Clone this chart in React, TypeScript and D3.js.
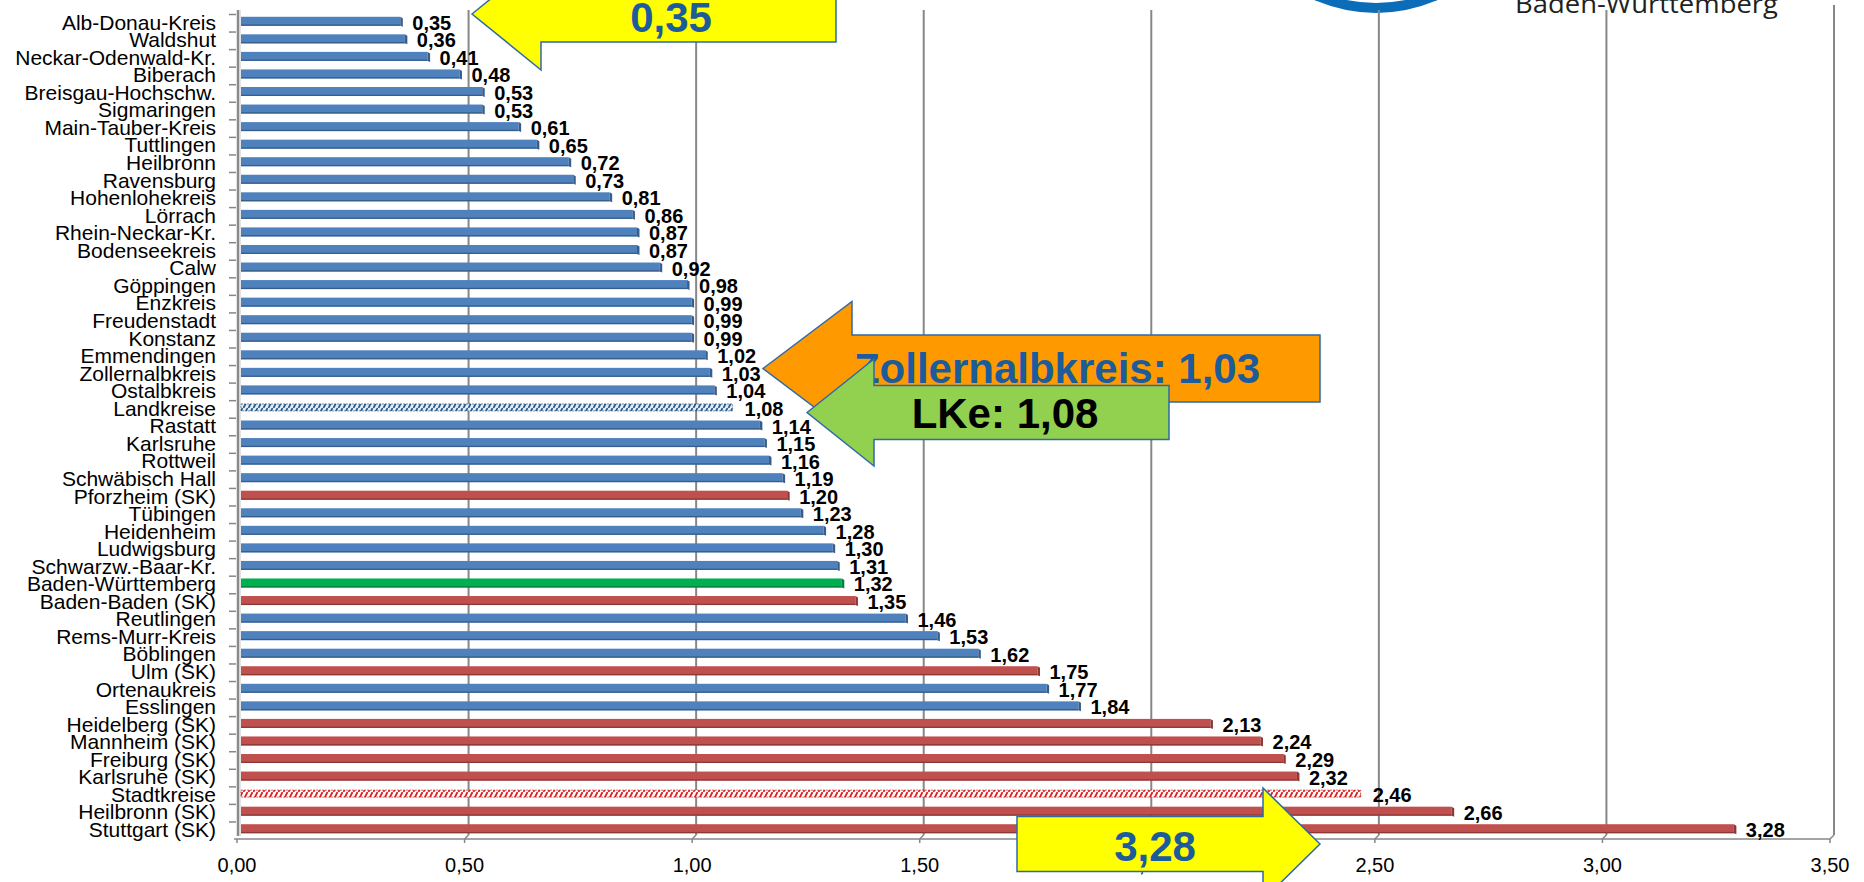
import React, { useEffect } from "react";
import * as d3 from "d3";

const categories = [
  "Alb-Donau-Kreis", "Waldshut", "Neckar-Odenwald-Kr.", "Biberach", "Breisgau-Hochschw.",
  "Sigmaringen", "Main-Tauber-Kreis", "Tuttlingen", "Heilbronn", "Ravensburg",
  "Hohenlohekreis", "Lörrach", "Rhein-Neckar-Kr.", "Bodenseekreis", "Calw",
  "Göppingen", "Enzkreis", "Freudenstadt", "Konstanz", "Emmendingen",
  "Zollernalbkreis", "Ostalbkreis", "Landkreise", "Rastatt", "Karlsruhe",
  "Rottweil", "Schwäbisch Hall", "Pforzheim (SK)", "Tübingen", "Heidenheim",
  "Ludwigsburg", "Schwarzw.-Baar-Kr.", "Baden-Württemberg", "Baden-Baden (SK)", "Reutlingen",
  "Rems-Murr-Kreis", "Böblingen", "Ulm (SK)", "Ortenaukreis", "Esslingen",
  "Heidelberg (SK)", "Mannheim (SK)", "Freiburg (SK)", "Karlsruhe (SK)", "Stadtkreise",
  "Heilbronn (SK)", "Stuttgart (SK)",
];

const values = [
  0.35, 0.36, 0.41, 0.48, 0.53,
  0.53, 0.61, 0.65, 0.72, 0.73,
  0.81, 0.86, 0.87, 0.87, 0.92,
  0.98, 0.99, 0.99, 0.99, 1.02,
  1.03, 1.04, 1.08, 1.14, 1.15,
  1.16, 1.19, 1.20, 1.23, 1.28,
  1.30, 1.31, 1.32, 1.35, 1.46,
  1.53, 1.62, 1.75, 1.77, 1.84,
  2.13, 2.24, 2.29, 2.32, 2.46,
  2.66, 3.28,
];

// LK = Landkreis, SK = Stadtkreis, BW = Land, LKM = Landkreise (mean), SKM = Stadtkreise (mean)
const kinds = [
  "LK", "LK", "LK", "LK", "LK",
  "LK", "LK", "LK", "LK", "LK",
  "LK", "LK", "LK", "LK", "LK",
  "LK", "LK", "LK", "LK", "LK",
  "LK", "LK", "LKM", "LK", "LK",
  "LK", "LK", "SK", "LK", "LK",
  "LK", "LK", "BW", "SK", "LK",
  "LK", "LK", "SK", "LK", "LK",
  "SK", "SK", "SK", "SK", "SKM",
  "SK", "SK",
];

const xTicks = [0, 0.5, 1, 1.5, 2, 2.5, 3, 3.5];

const fmt = (v: number) => v.toFixed(2).replace(".", ",");

const W = 1864;
const H = 882;

const x = d3.scaleLinear().domain([0, 3.5]).range([241, 1834]);
const y = d3.scaleBand<string>().domain(categories).range([13, 838]).padding(0);

const fillFor: Record<string, string> = {
  LK: "#4F81BD",
  SK: "#C0504D",
  BW: "#00B050",
  LKM: "url(#hatchBlue)",
  SKM: "url(#hatchRed)",
};
const darkFor: Record<string, string> = {
  LK: "#385D8A",
  SK: "#8C3836",
  BW: "#00803A",
  LKM: "#1F4E79",
  SKM: "#C00000",
};

function leftArrow(tx: number, ty: number, hx: number, hh: number, bh: number, ex: number) {
  return `M${tx},${ty} L${hx},${ty - hh} L${hx},${ty - bh} L${ex},${ty - bh} L${ex},${ty + bh} L${hx},${ty + bh} L${hx},${ty + hh} Z`;
}

export default function App() {
  useEffect(() => {
    document.body.style.margin = "0";
    document.body.style.overflow = "hidden";
  }, []);

  const bw = y.bandwidth();
  const cy = (c: string) => (y(c) as number) + bw / 2 - 0.5;
  const barH = 9;
  const blueText = "#1C5C9A";
  const arrowStroke = "#2E6AA8";

  return (
    <svg
      width={W}
      height={H}
      style={{ position: "absolute", left: 0, top: 0, display: "block", background: "#fff" }}
      fontFamily="'Liberation Sans', Arial, sans-serif"
    >
      <defs>
        <pattern id="hatchBlue" patternUnits="userSpaceOnUse" width="5" height="8">
          <rect width="5" height="8" fill="#E4ECF6" />
          <path d="M-1.5,8 L2.5,0 M3.5,8 L7.5,0" stroke="#2A5A8C" strokeWidth="1.7" />
        </pattern>
        <pattern id="hatchRed" patternUnits="userSpaceOnUse" width="5" height="8">
          <rect width="5" height="8" fill="#FFFFFF" />
          <path d="M-1.5,8 L2.5,0 M3.5,8 L7.5,0" stroke="#E02020" strokeWidth="1.8" />
        </pattern>
      </defs>

      {/* logo fragment */}
      <g>
        <circle cx={1376} cy={-140} r={153} fill="#0B6DB7" />
        <circle cx={1376} cy={-140} r={143} fill="#FFFFFF" />
        <text x={1515} y={12.7} fontFamily="'Open Sans', 'Noto Sans', sans-serif" fontSize={25}
          fill="#231F20" textLength={263} lengthAdjust="spacingAndGlyphs">Baden-Württemberg</text>
      </g>

      {/* gridlines (back wall) */}
      {xTicks.filter((t) => t > 0).map((t) => (
        <g key={"g" + t}>
          <line x1={x(t)} x2={x(t)} y1={t === 3.5 ? 5 : 10} y2={835} stroke="#878787" strokeWidth={2} />
          <line x1={x(t)} x2={x(t) - 4} y1={835} y2={839} stroke="#878787" strokeWidth={1.5} />
        </g>
      ))}
      {/* left wall */}
      <line x1={x(0) - 3} x2={x(0) - 3} y1={10} y2={836} stroke="#8A8A8A" strokeWidth={2.5} />
      <line x1={x(0) - 1} x2={x(0) - 1} y1={10} y2={836} stroke="#C8C8C8" strokeWidth={1} />
      {/* floor front edge */}
      <line x1={x(0) - 7} x2={x(3.5) - 4} y1={839} y2={839} stroke="#878787" strokeWidth={1.5} />
      {xTicks.map((t) => (
        <line key={"t" + t} x1={x(t) - 4} x2={x(t) - 4} y1={839} y2={843} stroke="#878787" strokeWidth={1.5} />
      ))}
      {/* category ticks */}
      {categories.map((c, i) => (
        <line key={"ct" + i} x1={229} x2={236} y1={(y(c) as number) + 1.5} y2={(y(c) as number) + 1.5}
          stroke="#878787" strokeWidth={1.5} />
      ))}

      {/* bars */}
      {categories.map((c, i) => {
        const k = kinds[i];
        const yc = cy(c);
        const x0 = x(0);
        const x1 = x(values[i]);
        const hatched = k === "LKM" || k === "SKM";
        const h = hatched ? 7 : barH;
        return (
          <g key={"b" + i}>
            <rect x={x0} y={yc - h / 2} width={x1 - x0} height={h} fill={fillFor[k]} />
            {!hatched && (
              <>
                <rect x={x0} y={yc + h / 2 - 1.3} width={x1 - x0} height={1.3} fill={darkFor[k]} />
                <path d={`M${x1},${yc - h / 2} L${x1 + 2.5},${yc - h / 2 + 1.5} L${x1 + 2.5},${yc + h / 2 + 1} L${x1},${yc + h / 2} Z`}
                  fill={darkFor[k]} />
              </>
            )}
            {hatched && (
              <rect x={x0} y={yc - h / 2} width={x1 - x0} height={h} fill="none"
                stroke={darkFor[k]} strokeWidth={0.6} strokeDasharray="2,1" />
            )}
          </g>
        );
      })}

      {/* category labels */}
      {categories.map((c) => (
        <text key={"cl" + c} x={216} y={cy(c) + 8.3} fontSize={21} textAnchor="end" fill="#000">{c}</text>
      ))}

      {/* value labels */}
      {categories.map((c, i) => (
        <text key={"vl" + c} x={x(values[i]) + 12} y={cy(c) + 8.5} fontSize={20} fontWeight="bold" fill="#000">
          {fmt(values[i])}
        </text>
      ))}

      {/* x tick labels */}
      {xTicks.map((t) => (
        <text key={"xl" + t} x={x(t) - 4} y={871.7} fontSize={20} textAnchor="middle" fill="#000">{fmt(t)}</text>
      ))}

      {/* callouts */}
      <path d={leftArrow(472, 14, 541, 56, 28, 836)} fill="#FFFF00" stroke={arrowStroke} strokeWidth={1.5} />
      <text x={671} y={31.7} fontSize={42} fontWeight="bold" fill={blueText} textAnchor="middle">0,35</text>

      <path d={leftArrow(763, 368.5, 852, 67, 33.5, 1320)} fill="#FF9900" stroke={arrowStroke} strokeWidth={1.5} />
      <text x={1057} y={383.3} fontSize={42} fontWeight="bold" fill={blueText} textAnchor="middle">Zollernalbkreis: 1,03</text>

      <path d={leftArrow(807, 412.5, 874, 53.5, 27, 1169)} fill="#92D050" stroke={arrowStroke} strokeWidth={1.5} />
      <text x={1005} y={428} fontSize={42} fontWeight="bold" fill="#000" textAnchor="middle">LKe: 1,08</text>

      <path d={leftArrow(1320, 844, 1263, 56, 27.5, 1017)} fill="#FFFF00" stroke={arrowStroke} strokeWidth={1.5} />
      <text x={1155} y={860.7} fontSize={42} fontWeight="bold" fill={blueText} textAnchor="middle">3,28</text>
    </svg>
  );
}
